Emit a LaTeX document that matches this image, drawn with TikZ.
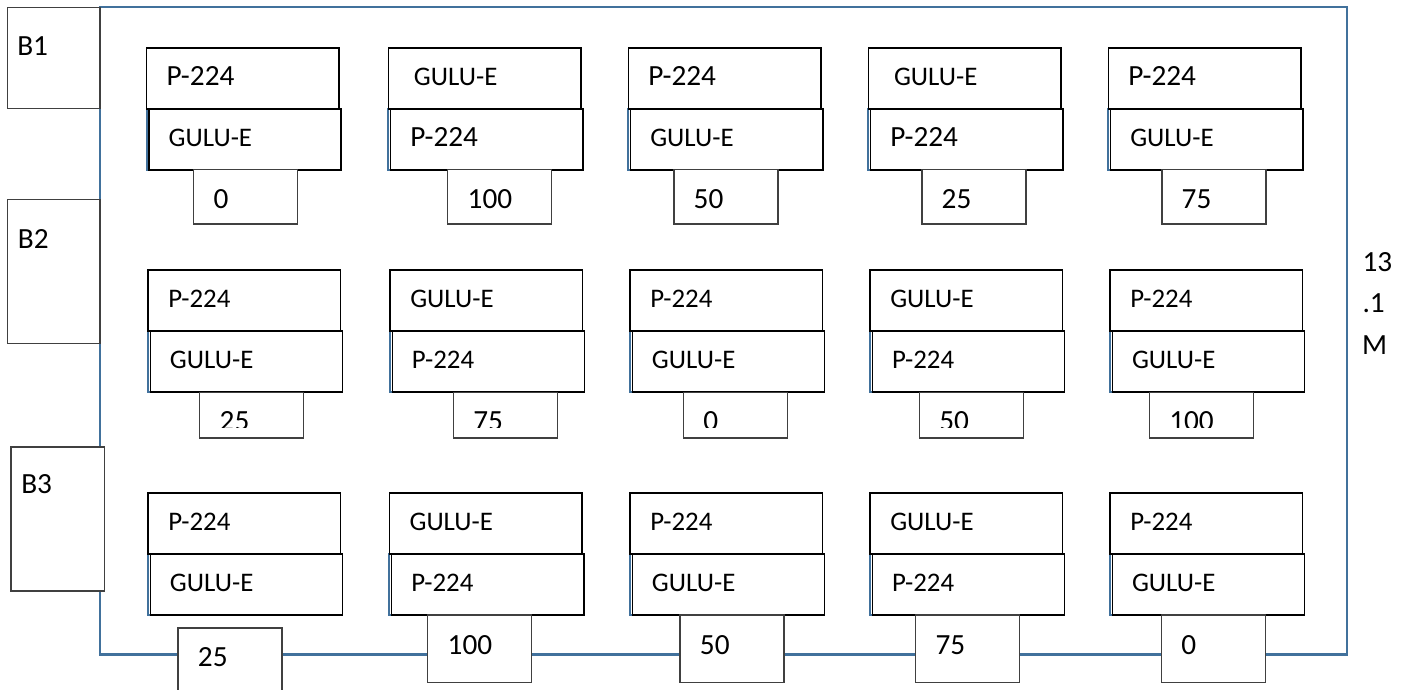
\documentclass[tikz,border=0pt]{standalone}
\usepackage{fontspec}
\setmainfont{Carlito}
\definecolor{frameblue}{RGB}{65,113,156}
\definecolor{numgray}{RGB}{64,64,64}
\tikzset{
 boxline/.style={draw=black, line width=0.65pt, fill=white},
 numbox/.style={draw=numgray, line width=0.65pt, fill=white},
 blueedge/.style={draw=frameblue, line width=0.8pt},
 framestyle/.style={draw=frameblue, line width=0.95pt},
 lbl/.style={anchor=base west, inner sep=0pt, font=\fontsize{11}{13}\selectfont},
 lblbig/.style={anchor=base west, inner sep=0pt, font=\fontsize{12}{14}\selectfont},
}
% #1 name, #2 x, #3 y, #4 top text, #5 top style, #6 top dx, #7 lower text, #8 lower style
\newcommand{\mycell}[8]{%
 \path[blueedge] (#2,#3+61) rectangle (#2+194.5,#3+122);
 \path[boxline] (#2,#3) rectangle (#2+192.5,#3+61);
 \path[boxline] (#2+2.3,#3+61) rectangle (#2+194.5,#3+122);
 \node[#5] (#1t) at (#2+#6,#3+37.8) {#4};
 \node[#8] (#1b) at (#2+21.5,#3+98.6) {#7};
}
% #1 name, #2 x, #3 ytop, #4 ybottom, #5 text
\newcommand{\mynum}[5]{%
 \path[numbox] (#2,#3) rectangle (#2+104,#4);
 \node[lblbig] (#1) at (#2+19.5,#3+39) {#5};
}
\newcommand{\mynumclip}[5]{%
 \path[numbox] (#2,#3) rectangle (#2+104,#4);
 \begin{scope}
 \clip (#2,#3) rectangle (#2+104,#4-11);
 \node[lblbig] (#1) at (#2+19.5,#3+38.3) {#5};
 \end{scope}
}
\begin{document}
\begin{tikzpicture}[x=0.41pt,y=-0.41pt]
\useasboundingbox (0,0) rectangle (1407,689);
\fill[white] (0,0) rectangle (1407,689);
% outer field frame
\path[framestyle] (100,7.3) rectangle (1347,654.5);
% block boxes
\path[numbox] (7.3,7.3) rectangle (100,108.3);
\node[lblbig] (B1) at (16.8,55) {B1};
\path[numbox] (7.3,199.3) rectangle (100,343.3);
\node[lblbig] (B2) at (17.5,248.3) {B2};
\path[numbox] (11,446.7) rectangle (104.3,590.7);
\node[lblbig] (B3) at (20.8,493.3) {B3};
% row 1
\mycell{ra}{146.7}{47.7}{P-224}{lblbig}{19.5}{GULU-E}{lbl}
\mycell{rb}{388.3}{47.7}{GULU-E}{lbl}{25.2}{P-224}{lblbig}
\mycell{rc}{628.3}{47.7}{P-224}{lblbig}{19.5}{GULU-E}{lbl}
\mycell{rd}{868.3}{47.7}{GULU-E}{lbl}{25.2}{P-224}{lblbig}
\mycell{re}{1108.3}{47.7}{P-224}{lblbig}{19.5}{GULU-E}{lbl}
\mynum{na}{193.7}{169.3}{224}{0}
\mynum{nb}{447.7}{169.3}{224}{100}
\mynum{nc}{673.7}{169.3}{224}{50}
\mynum{nd}{921.7}{169.3}{224}{25}
\mynum{ne}{1161.7}{169.3}{224}{75}
% row 2
\mycell{sa}{148}{270}{P-224}{lbl}{19.8}{GULU-E}{lbl}
\mycell{sb}{390}{270}{GULU-E}{lbl}{19.8}{P-224}{lbl}
\mycell{sc}{630}{270}{P-224}{lbl}{19.8}{GULU-E}{lbl}
\mycell{sd}{870}{270}{GULU-E}{lbl}{19.8}{P-224}{lbl}
\mycell{se}{1110}{270}{P-224}{lbl}{19.8}{GULU-E}{lbl}
\mynumclip{ma}{199.7}{392.3}{438}{25}
\mynumclip{mb}{453.3}{392.3}{438}{75}
\mynumclip{mc}{683.3}{392.3}{438}{0}
\mynumclip{md}{919.3}{392.3}{438}{50}
\mynumclip{me}{1149.3}{392.3}{438}{100}
% row 3
\mycell{ta}{148}{493}{P-224}{lbl}{19.8}{GULU-E}{lbl}
\mycell{tb}{389.3}{493}{GULU-E}{lbl}{19.8}{P-224}{lbl}
\mycell{tc}{630}{493}{P-224}{lbl}{19.8}{GULU-E}{lbl}
\mycell{td}{870}{493}{GULU-E}{lbl}{19.8}{P-224}{lbl}
\mycell{te}{1110}{493}{P-224}{lbl}{19.8}{GULU-E}{lbl}
\mynum{ka}{178}{627.7}{691}{25}
\mynum{kb}{427.7}{615}{682.5}{100}
\mynum{kc}{680}{615}{682.5}{50}
\mynum{kd}{915.6}{615}{682.5}{75}
\mynum{ke}{1161.3}{615}{682.5}{0}
% side dimension label
\node[lblbig] (d1) at (1362,271.7) {13};
\node[lblbig] (d2) at (1362,312.7) {.1};
\node[lblbig] (d3) at (1361.5,354.3) {M};
\end{tikzpicture}
\end{document}
